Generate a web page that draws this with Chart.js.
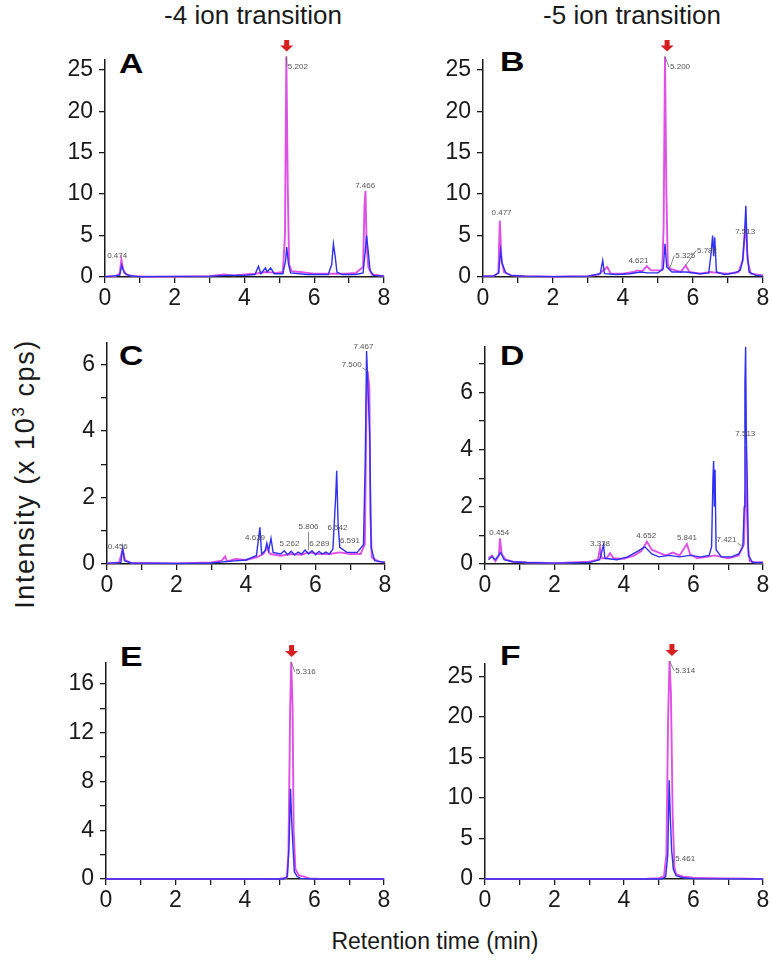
<!doctype html>
<html lang="en">
<head>
<meta charset="utf-8">
<title>-4 / -5 ion transition chromatograms</title>
<script src="https://cdn.jsdelivr.net/npm/chart.js"></script>
<style>
  body { margin: 0; background: #fff; font-family: "Liberation Sans", Arial, sans-serif; }
  #page { position: relative; width: 772px; height: 960px; overflow: hidden; }
  canvas { position: absolute; }
  .title { position: absolute; top: 0; font-size: 26px; line-height: 26px; color: #1a1a1a; transform: translateX(-50%); white-space: nowrap; }
  .letter { position: absolute; font-size: 27px; line-height: 27px; font-weight: bold; color: #000; transform: scaleX(1.25); transform-origin: left top; }
  #ylab { position: absolute; left: 25px; top: 474px; font-size: 27px; letter-spacing: 1.6px; color: #1a1a1a; white-space: nowrap; transform: translate(-50%, -50%) rotate(-90deg); }
  #xlab { position: absolute; left: 435px; top: 928px; font-size: 23px; color: #1a1a1a; white-space: nowrap; transform: translateX(-50%); }
</style>
</head>
<body>
<div id="page">
  <div class="title" style="left:253px;top:2px">-4 ion transition</div>
  <div class="title" style="left:632px;top:2px">-5 ion transition</div>
  <div class="letter" style="left:119px;top:51px">A</div>
  <div class="letter" style="left:500px;top:49px">B</div>
  <div class="letter" style="left:119px;top:343px">C</div>
  <div class="letter" style="left:500px;top:343px">D</div>
  <div class="letter" style="left:120px;top:644px">E</div>
  <div class="letter" style="left:500px;top:643px">F</div>
  <div id="ylab">Intensity (x 10<sup style="font-size:17px">3</sup> cps)</div>
  <div id="xlab">Retention time (min)</div>
</div>

<script>
  // x axis (min)
  const xTicks = [0, 1, 2, 3, 4, 5, 6, 7, 8];
  const xLabels = [0, 2, 4, 6, 8];

  // y axis ticks / labels (x 10^3 cps)
  const yTicksA = [0, 5, 10, 15, 20, 25], yLabelsA = [0, 5, 10, 15, 20, 25];
  const yTicksB = [0, 5, 10, 15, 20, 25], yLabelsB = [0, 5, 10, 15, 20, 25];
  const yTicksC = [0, 1, 2, 3, 4, 5, 6], yLabelsC = [0, 2, 4, 6];
  const yTicksD = [0, 1, 2, 3, 4, 5, 6, 7], yLabelsD = [0, 2, 4, 6];
  const yTicksE = [0, 2, 4, 6, 8, 10, 12, 14, 16], yLabelsE = [0, 4, 8, 12, 16];
  const yTicksF = [0, 5, 10, 15, 20, 25], yLabelsF = [0, 5, 10, 15, 20, 25];

  // traces: [time, intensity]
  const aPink = [[0,0.05],[0.3,0.1],[0.42,0.4],[0.47,2.1],[0.52,0.9],[0.6,0.3],[0.8,0.1],[1.2,0.05],[2,0.05],[3,0.1],[3.4,0.3],[3.7,0.2],[4.0,0.3],[4.3,0.4],[4.6,0.6],[4.9,0.5],[5.1,0.6],[5.16,5],[5.2,26.6],[5.24,11],[5.28,1.5],[5.35,0.7],[5.6,0.6],[5.8,0.5],[6.0,0.4],[6.4,0.4],[6.6,0.4],[6.9,0.4],[7.2,0.5],[7.4,1.2],[7.44,8.6],[7.47,10.4],[7.5,4],[7.55,1.2],[7.65,0.3],[8,0.1]];
  const aBlue = [[0,0.05],[0.42,0.2],[0.48,1.4],[0.55,0.5],[0.7,0.15],[1,0.05],[3,0.1],[3.5,0.2],[4.0,0.2],[4.3,0.3],[4.4,1.3],[4.47,0.4],[4.6,1.1],[4.65,0.6],[4.75,1.1],[4.85,0.4],[5.1,0.4],[5.18,2.0],[5.21,3.6],[5.26,1.6],[5.32,0.5],[5.8,0.3],[6.4,0.3],[6.5,1.5],[6.55,4.0],[6.6,2.5],[6.65,0.6],[6.8,0.3],[7.2,0.3],[7.4,0.5],[7.46,3],[7.5,5.0],[7.55,3.0],[7.6,0.8],[7.7,0.2],[8,0.1]];

  const bPink = [[0,0.1],[0.3,0.1],[0.44,0.5],[0.48,6.8],[0.53,2.0],[0.6,0.6],[0.8,0.2],[1.2,0.1],[2,0.05],[3,0.1],[3.3,0.3],[3.55,1.2],[3.65,0.4],[4.0,0.4],[4.3,0.6],[4.4,0.8],[4.55,0.7],[4.68,1.3],[4.8,0.8],[5.0,0.8],[5.12,0.8],[5.16,6],[5.2,26.6],[5.24,10],[5.28,1.5],[5.33,1.0],[5.5,0.8],[5.65,0.6],[5.79,1.4],[5.9,0.6],[6.2,0.4],[6.5,0.6],[6.7,0.5],[7.0,0.4],[7.3,0.6],[7.42,2.0],[7.51,6.6],[7.56,2.0],[7.65,0.4],[8,0.2]];
  const bBlue = [[0,0.1],[0.3,0.1],[0.45,0.5],[0.5,3.2],[0.55,1.6],[0.65,0.5],[0.8,0.2],[1.2,0.1],[2,0.05],[3,0.1],[3.35,0.4],[3.42,2.0],[3.47,0.4],[3.8,0.3],[4.2,0.4],[4.5,0.6],[4.7,0.5],[5.0,0.5],[5.15,1.0],[5.2,4.0],[5.25,1.2],[5.4,0.6],[5.8,0.6],[6.2,0.4],[6.45,0.5],[6.52,3],[6.56,5.0],[6.59,2.5],[6.62,4.8],[6.67,0.6],[6.9,0.3],[7.2,0.5],[7.35,0.8],[7.42,2.0],[7.47,5],[7.51,8.6],[7.55,3],[7.6,0.6],[7.8,0.2],[8,0.1]];

  const cPink = [[0,0.02],[0.35,0.05],[0.45,0.43],[0.52,0.12],[0.7,0.03],[2,0.02],[3,0.05],[3.3,0.1],[3.4,0.23],[3.45,0.08],[3.7,0.15],[4.0,0.12],[4.3,0.2],[4.5,0.3],[4.6,0.48],[4.7,0.3],[5.0,0.25],[5.3,0.3],[5.6,0.28],[5.8,0.35],[6.1,0.3],[6.4,0.3],[6.7,0.35],[7.0,0.3],[7.3,0.3],[7.42,0.6],[7.47,5.0],[7.5,5.8],[7.55,5.3],[7.58,1.5],[7.62,0.2],[7.8,0.08],[8,0.05]];
  const cBlue = [[0,0.02],[0.4,0.05],[0.45,0.48],[0.5,0.1],[0.7,0.03],[2,0.02],[3,0.03],[3.5,0.08],[4.0,0.12],[4.3,0.25],[4.4,1.1],[4.45,0.3],[4.55,0.4],[4.6,0.63],[4.65,0.4],[4.72,0.77],[4.78,0.35],[5.0,0.3],[5.1,0.4],[5.2,0.28],[5.3,0.38],[5.4,0.27],[5.5,0.36],[5.6,0.3],[5.7,0.42],[5.8,0.3],[5.9,0.4],[6.0,0.28],[6.1,0.38],[6.2,0.3],[6.3,0.36],[6.4,0.3],[6.5,0.45],[6.58,2.0],[6.61,2.8],[6.65,1.2],[6.7,0.5],[6.9,0.35],[7.2,0.35],[7.38,0.58],[7.43,3],[7.47,6.4],[7.52,5.0],[7.56,3.9],[7.6,0.5],[7.7,0.1],[8,0.05]];

  const dPink = [[0.1,0.2],[0.2,0.29],[0.3,0.1],[0.4,0.3],[0.43,0.9],[0.48,0.35],[0.6,0.15],[0.8,0.08],[1.2,0.05],[2,0.03],[3,0.08],[3.25,0.15],[3.31,0.55],[3.36,0.2],[3.5,0.2],[3.6,0.38],[3.7,0.2],[4.0,0.18],[4.3,0.3],[4.5,0.45],[4.66,0.78],[4.8,0.5],[5.0,0.4],[5.2,0.3],[5.4,0.4],[5.6,0.3],[5.81,0.7],[5.9,0.35],[6.1,0.2],[6.4,0.25],[6.6,0.3],[6.8,0.25],[7.0,0.2],[7.3,0.3],[7.45,0.7],[7.49,2.5],[7.51,4.1],[7.53,2.2],[7.57,0.6],[7.62,0.1],[7.8,0.05],[8,0.05]];
  const dBlue = [[0.1,0.15],[0.2,0.26],[0.3,0.15],[0.45,0.4],[0.55,0.15],[0.8,0.08],[1.2,0.05],[2,0.03],[3,0.05],[3.3,0.15],[3.41,0.67],[3.45,0.2],[3.8,0.15],[4.1,0.25],[4.4,0.45],[4.6,0.6],[4.8,0.35],[5.0,0.25],[5.3,0.3],[5.6,0.25],[5.9,0.3],[6.2,0.25],[6.45,0.3],[6.52,0.6],[6.56,3.0],[6.58,3.6],[6.6,2.0],[6.62,3.3],[6.65,0.5],[6.8,0.25],[7.1,0.25],[7.3,0.35],[7.42,0.6],[7.46,2.0],[7.48,6.3],[7.5,7.6],[7.52,4.5],[7.55,2.7],[7.58,0.3],[7.7,0.05],[8,0.05]];

  const ePink = [[0,0],[4.0,0],[5.0,0.02],[5.2,0.1],[5.25,2],[5.3,14],[5.33,17.8],[5.37,14],[5.4,4],[5.45,0.8],[5.55,0.3],[5.7,0.2],[5.85,0.05],[6.2,0],[8,0]];
  const eBlue = [[0,0],[5.1,0],[5.22,0.2],[5.27,3],[5.31,7.4],[5.34,5],[5.37,3.2],[5.42,0.6],[5.5,0.2],[5.6,0.05],[6,0],[8,0]];

  const fPink = [[0,0],[4.6,0],[4.7,0.05],[5.0,0.1],[5.15,0.3],[5.22,3],[5.27,20],[5.31,26.9],[5.35,23],[5.4,8],[5.45,1.5],[5.5,0.6],[5.7,0.3],[6.0,0.15],[6.5,0.1],[7,0.08],[7.6,0.05],[7.8,0],[8,0]];
  const fBlue = [[0,0],[5.1,0],[5.2,0.3],[5.26,3],[5.3,12.2],[5.33,8],[5.37,3.6],[5.42,1.2],[5.5,0.4],[5.7,0.15],[6.0,0.05],[8,0]];

  // peak annotations: [textTime, textValue, text, peakTime, peakValue]
  const aNotes = [[0.35,2.6,'0.474'],[5.53,25.4,'5.202',5.2,26.6],[7.46,11.0,'7.466']];
  const bNotes = [[0.53,7.7,'0.477'],[5.63,25.3,'5.200',5.2,26.6],[4.44,2.0,'4.621'],[5.78,2.6,'5.325',5.33,1.0],[6.4,3.2,'5.782',5.79,1.4],[7.49,5.4,'7.513']];
  const cNotes = [[0.31,0.53,'0.456'],[4.26,0.8,'4.639'],[5.25,0.6,'5.262'],[5.8,1.12,'5.806',5.8,0.42],[6.11,0.6,'6.289'],[6.63,1.09,'6.542'],[6.99,0.7,'6.591'],[7.38,6.53,'7.467'],[7.04,5.98,'7.500',7.5,5.8]];
  const dNotes = [[0.41,1.1,'0.454'],[3.31,0.7,'3.338'],[4.64,0.98,'4.652'],[5.81,0.93,'5.841'],[6.95,0.84,'7.421',7.42,0.6],[7.49,4.55,'7.513']];
  const eNotes = [[5.75,17.0,'5.316',5.33,17.8]];
  const fNotes = [[5.76,25.7,'5.314',5.31,26.9],[5.76,2.45,'5.461',5.4,1.5]];

  // red arrows: [time, peak value]
  const aArrow = [5.21, 26.6], bArrow = [5.26, 26.6], eArrow = [5.34, 17.8], fArrow = [5.38, 26.9];

  const pink = '#df50e6', blue = '#3030f0', ink = '#1a1a1a';
  const YW = 62, PT = 18, PR = 14, XH = 36;

  const panels = [
    { pink: aPink, blue: aBlue, yTicks: yTicksA, yLabels: yLabelsA, yMax: 26.2, notes: aNotes, arrow: aArrow, box: [105, 58, 384, 277] },
    { pink: bPink, blue: bBlue, yTicks: yTicksB, yLabels: yLabelsB, yMax: 26.2, notes: bNotes, arrow: bArrow, box: [483, 58, 763, 277] },
    { pink: cPink, blue: cBlue, yTicks: yTicksC, yLabels: yLabelsC, yMax: 6.65, notes: cNotes, arrow: null, box: [107, 341, 385, 564] },
    { pink: dPink, blue: dBlue, yTicks: yTicksD, yLabels: yLabelsD, yMax: 7.6, notes: dNotes, arrow: null, box: [485, 345, 763, 564] },
    { pink: ePink, blue: eBlue, yTicks: yTicksE, yLabels: yLabelsE, yMax: 17.74, notes: eNotes, arrow: eArrow, box: [106, 661, 384, 879] },
    { pink: fPink, blue: fBlue, yTicks: yTicksF, yLabels: yLabelsF, yMax: 26.56, notes: fNotes, arrow: fArrow, box: [485, 662, 763, 879] }
  ];

  // peak labels, leader lines and red arrows
  const annotate = {
    id: 'annotate',
    afterDatasetsDraw(chart, args, opts) {
      const { ctx } = chart;
      const x = chart.scales.x, y = chart.scales.y;
      ctx.save();
      ctx.font = '8px "Liberation Sans", Arial, sans-serif';
      ctx.fillStyle = '#555';
      ctx.strokeStyle = '#666';
      ctx.lineWidth = 0.8;
      ctx.textAlign = 'center';
      ctx.textBaseline = 'middle';
      (opts.notes || []).forEach(n => {
        const px = x.getPixelForValue(n[0]), py = y.getPixelForValue(n[1]);
        const w = ctx.measureText(n[2]).width;
        if (n.length > 3) {
          const qx = x.getPixelForValue(n[3]), qy = y.getPixelForValue(n[4]);
          ctx.beginPath();
          ctx.moveTo(qx, qy);
          if (qx < px - w / 2) ctx.lineTo(px - w / 2 - 1, py);
          else if (qx > px + w / 2) ctx.lineTo(px + w / 2 + 1, py + 3);
          else ctx.lineTo(qx, py + 5);
          ctx.stroke();
        }
        ctx.fillText(n[2], px, py);
      });
      if (opts.arrow) {
        const ax = x.getPixelForValue(opts.arrow[0]);
        const ab = y.getPixelForValue(opts.arrow[1]) - 5;
        ctx.fillStyle = '#d61f1f';
        ctx.fillRect(ax - 2.5, ab - 12, 5, 7);
        ctx.beginPath();
        ctx.moveTo(ax - 6.5, ab - 6);
        ctx.lineTo(ax + 6.5, ab - 6);
        ctx.lineTo(ax, ab);
        ctx.closePath();
        ctx.fill();
      }
      ctx.restore();
    }
  };

  const page = document.getElementById('page');
  panels.forEach(p => {
    const [L, T, R, B] = p.box;
    const cv = document.createElement('canvas');
    cv.width = (R - L) + YW + PR;
    cv.height = (B - T) + PT + XH;
    cv.style.left = (L - YW) + 'px';
    cv.style.top = (T - PT) + 'px';
    page.appendChild(cv);

    new Chart(cv.getContext('2d'), {
      type: 'line',
      data: {
        datasets: [
          { data: p.blue.map(d => ({ x: d[0], y: d[1] })), borderColor: blue, borderWidth: 1.4, pointRadius: 0, tension: 0, clip: false, order: 0 },
          { data: p.pink.map(d => ({ x: d[0], y: d[1] })), borderColor: pink, borderWidth: 1.9, pointRadius: 0, tension: 0, clip: false, order: 1 }
        ]
      },
      options: {
        responsive: false,
        animation: false,
        layout: { padding: { top: PT, right: PR, left: 0, bottom: 0 } },
        plugins: {
          legend: { display: false },
          tooltip: { enabled: false },
          annotate: { notes: p.notes, arrow: p.arrow }
        },
        scales: {
          x: {
            type: 'linear', min: 0, max: 8,
            afterBuildTicks: s => { s.ticks = xTicks.map(v => ({ value: v })); },
            afterFit: s => { s.height = XH; },
            ticks: {
              autoSkip: false, maxRotation: 0, padding: 2, color: ink,
              font: { family: '"Liberation Sans", Arial, sans-serif', size: 23 },
              callback: v => xLabels.includes(v) ? String(v) : ''
            },
            grid: { drawOnChartArea: false, drawTicks: true, tickLength: 6, color: ink, lineWidth: 1.3 },
            border: { display: true, color: ink, width: 1.5 }
          },
          y: {
            type: 'linear', min: 0, max: p.yMax,
            afterBuildTicks: s => { s.ticks = p.yTicks.map(v => ({ value: v })); },
            afterFit: s => { s.width = YW; },
            ticks: {
              autoSkip: false, padding: 6, color: ink, includeBounds: false,
              font: { family: '"Liberation Sans", Arial, sans-serif', size: 23 },
              callback: v => p.yLabels.includes(v) ? String(v) : ''
            },
            grid: { drawOnChartArea: false, drawTicks: true, tickLength: 6, color: ink, lineWidth: 1.3 },
            border: { display: true, color: ink, width: 1.5 }
          }
        }
      },
      plugins: [annotate]
    });
  });
</script>
</body>
</html>
